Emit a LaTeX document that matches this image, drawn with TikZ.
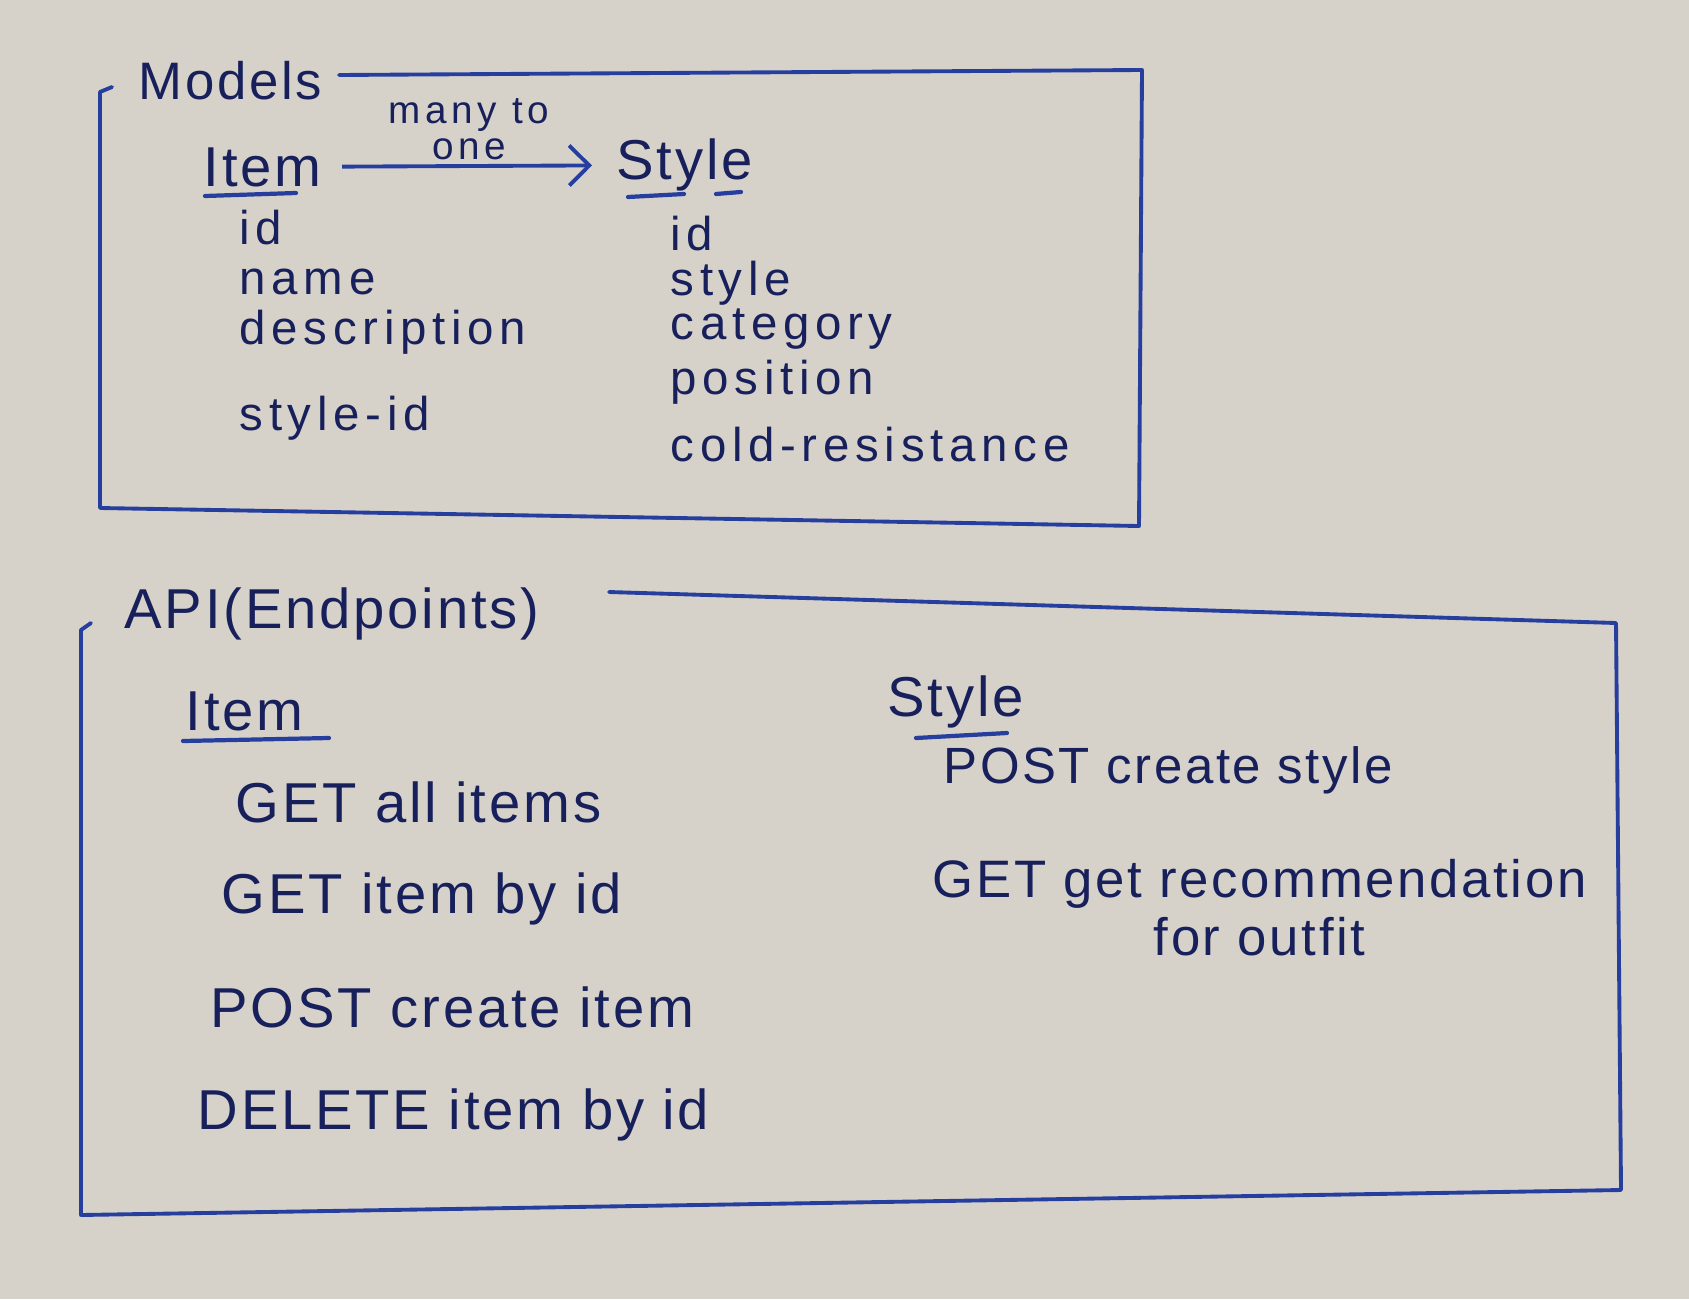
\documentclass[tikz,border=0pt]{standalone}
\usepackage{fontspec}
\setmainfont{Liberation Sans}
\newfontfamily\handfont[LetterSpace=12]{Liberation Sans}
\newfontfamily\penfont[LetterSpace=5]{Liberation Sans}
\usetikzlibrary{arrows.meta, positioning, calc}
\definecolor{paper}{RGB}{214,210,202}
\definecolor{pen}{RGB}{38,62,158}
\definecolor{ink}{RGB}{24,32,92}
\tikzset{
    frame/.style={draw=pen, line width=1.1pt, line join=round, line cap=round},
    heading/.style={text=ink, font=\penfont\fontsize{16}{19}\selectfont, inner sep=0pt, anchor=west},
    field/.style={text=ink, font=\handfont\fontsize{13.5}{15}\selectfont, inner sep=0pt, anchor=west},
    endpoint/.style={text=ink, font=\penfont\fontsize{16}{19}\selectfont, inner sep=0pt, anchor=west},
    uline/.style={draw=pen, line width=1.2pt, line cap=round},
}

\begin{document}
\begin{tikzpicture}
    \fill[paper] (0,0) rectangle (16.89,-12.99);
    \useasboundingbox (0,0) rectangle (16.89,-12.99);

    % models
    \node[heading, font=\penfont\fontsize{15}{18}\selectfont] (models) at (1.38,-0.81) {Models};
    \coordinate (m-start) at (3.39,-0.75);
    \coordinate (m-tr) at (11.42,-0.70);
    \coordinate (m-br) at (11.39,-5.26);
    \coordinate (m-bl) at (1.00,-5.08);
    \coordinate (m-tl) at (1.00,-0.92);
    \draw[frame] (m-start) -- (m-tr) -- (m-br) -- (m-bl) -- (m-tl) -- ++(0.12,0.05);

    \node[heading] (item) at (2.03,-1.67) {Item};
    \node[heading] (style) at (6.16,-1.65) {Style};
    \draw[uline] (2.05,-1.96) -- (2.96,-1.93);
    \draw[uline] (6.28,-1.97) -- (6.84,-1.94);
    \draw[uline] (7.16,-1.94) -- (7.41,-1.92);

    \draw[pen, line width=1.1pt, -{Straight Barb[length=2mm, width=4mm]},
          shorten <=0.2cm, shorten >=0.24cm] (item) -- node[above=-2pt, align=center,
          text=ink, font=\handfont\fontsize{11}{10}\selectfont]{many to\\one} (style);

    \node[field] (iid) at (2.39,-2.28) {id};
    \node[field, below=0.54cm of iid.west, anchor=west] (iname) {name};
    \node[field, below=0.50cm of iname.west, anchor=west] (idesc) {description};
    \node[field, below=0.86cm of idesc.west, anchor=west] (isid) {style-id};

    \node[field] (sid) at (6.70,-2.34) {id};
    \node[field, below=0.49cm of sid.west, anchor=west] (sstyle) {style};
    \node[field, below=0.46cm of sstyle.west, anchor=west] (scat) {category};
    \node[field, below=0.53cm of scat.west, anchor=west] (spos) {position};
    \node[field, below=0.63cm of spos.west, anchor=west] (scold) {cold-resistance};

    % api
    \node[heading] (api) at (1.24,-6.14) {API(Endpoints)};
    \coordinate (a-start) at (6.09,-5.92);
    \coordinate (a-tr) at (16.16,-6.23);
    \coordinate (a-br) at (16.21,-11.90);
    \coordinate (a-bl) at (0.81,-12.15);
    \coordinate (a-tl) at (0.81,-6.30);
    \draw[frame] (a-start) -- (a-tr) -- (a-br) -- (a-bl) -- (a-tl) -- ++(0.10,0.07);

    \node[heading] (aitem) at (1.85,-7.11) {Item};
    \draw[uline] (1.83,-7.41) -- (3.29,-7.38);
    \node[endpoint] (getall) at (2.35,-8.02) {GET all items};
    \node[endpoint] (getone) at (2.21,-8.99) {GET item by id};
    \node[endpoint] (postitem) at (2.10,-10.07) {POST create item};
    \node[endpoint] (delitem) at (1.97,-11.15) {DELETE item by id};

    \node[heading] (astyle) at (8.87,-7.02) {Style};
    \draw[uline] (9.16,-7.38) -- (10.07,-7.33);
    \node[endpoint, font=\penfont\fontsize{14.5}{16.5}\selectfont] (poststyle) at (9.43,-7.70) {POST create style};
    \node[endpoint, font=\penfont\fontsize{15}{16.5}\selectfont, align=center] (getrec) at (9.32,-9.08)
        {GET get recommendation\\for outfit};
\end{tikzpicture}
\end{document}
